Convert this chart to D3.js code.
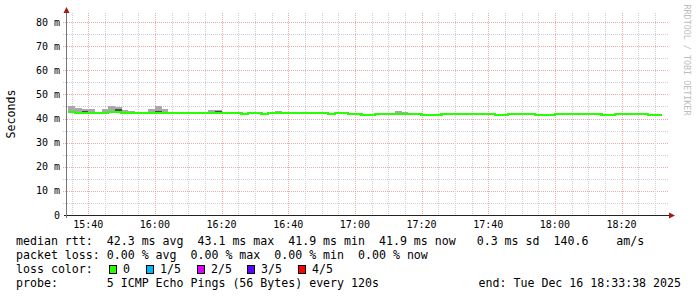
<!DOCTYPE html>
<html>
<head>
<meta charset="utf-8">
<script src="https://cdn.jsdelivr.net/npm/d3@7"></script>
<style>
  body { margin: 0; background: #fff; }
  text { font-family: "DejaVu Sans Mono", monospace; white-space: pre; }
</style>
</head>
<body>
<div id="smokeChart"></div>
<script>
// median rtt per 120s slot (ms), first slot starts 15:34:00
var medianMs = [
  42.7, 42.35, 42.35, 42.35, 42.35, 42.35, 42.7, 42.8,
  42.3, 42.3, 42.3, 42.3, 42.3, 42.3, 42.3, 42.3, 42.3, 42.3,
  42.3, 42.3, 42.3, 42.3, 42.3, 42.3, 42.3, 42.3,
  41.8, 42.3, 42.3, 41.8, 42.3, 42.3, 42.3, 42.3, 42.3, 42.3,
  42.3, 42.3, 42.3, 41.8, 42.3, 42.3, 41.8, 41.95, 41.5, 41.5,
  41.95, 41.95, 41.95, 41.95, 41.95, 41.95, 41.95, 41.5, 41.5, 41.5,
  41.95, 41.95, 41.95, 41.95, 41.95, 41.95, 41.95, 41.95, 41.5, 41.5,
  41.95, 41.95, 41.95, 41.95, 41.5, 41.5, 41.5, 41.95, 41.95, 41.95,
  41.95, 41.95, 41.95, 41.95, 41.5, 41.5, 41.95, 41.95, 41.95, 41.95,
  41.95, 41.5, 41.5
];

// slots where the smoke shows above the median line
var smokeIdx = [0, 1, 2, 3, 5, 6, 7, 8, 9, 12, 13, 14, 21, 22, 31, 49, 50];
var smokeMax = [45.3, 44.5, 43.9, 43.9, 43.9, 45.3, 44.7, 43.4, 43.0, 43.9, 45.3, 43.9, 43.4, 43.4, 43.1, 43.1, 42.8];
var smokeMin = [42.2, 42.0, 42.0, 42.1, 42.0, 42.3, 42.4, 42.0, 42.1, 42.0, 42.1, 42.0, 42.0, 42.1, 42.0, 41.7, 41.7];
var smokeP4 = [42.9, 42.6, 43.2, 42.6, 42.6, 43.0, 44.0, 42.6, 42.5, 42.7, 43.0, 42.6, 42.9, 43.2, 42.4, 42.2, 42.1];

var yTicks = [0, 10, 20, 30, 40, 50, 60, 70, 80];
var yTickLabels = ["0", "10 m", "20 m", "30 m", "40 m", "50 m", "60 m", "70 m", "80 m"];
var xTickLabels = ["15:40", "16:00", "16:20", "16:40", "17:00", "17:20", "17:40", "18:00", "18:20"];

var lossLabels = ["0", "1/5", "2/5", "3/5", "4/5"];
var lossColors = ["#26ff00", "#00b8ff", "#dd00ff", "#5e00ff", "#ff0000"];

var legendRows = [
  "median rtt:  42.3 ms avg  43.1 ms max  41.9 ms min  41.9 ms now   0.3 ms sd  140.6    am/s",
  "packet loss: 0.00 % avg  0.00 % max  0.00 % min  0.00 % now",
  "loss color:",
  "probe:       5 ICMP Echo Pings (56 Bytes) every 120s"
];
var endLabel = "end: Tue Dec 16 18:33:38 2025";

function smokeChart() {
  var width = 697, height = 297;
  var left = 67, right = 667, top = 13, bottom = 215;

  var tStart = new Date(2025, 11, 16, 15, 33, 38);
  var tEnd = new Date(2025, 11, 16, 18, 33, 38);
  var slot0 = new Date(2025, 11, 16, 15, 34, 0);
  var stepMs = 120 * 1000;

  function slotTime(i) { return new Date(slot0.getTime() + i * stepMs); }

  var x = d3.scaleTime().domain([tStart, tEnd]).range([left, right]);
  var y = d3.scaleLinear().domain([0, 80]).range([bottom, 22]);

  var svg = d3.select("#smokeChart")
    .append("svg")
    .attr("width", width)
    .attr("height", height);

  // grid: minor every 5 m / 5 min, major every 10 m / 20 min
  var g = svg.append("g").attr("class", "grid");
  var ms = [];
  for (var v = 5; v <= 80; v += 5) ms.push(v);
  ms.forEach(function(v) {
    g.append("line")
      .attr("x1", 63).attr("x2", 669)
      .attr("y1", Math.round(y(v)) + 0.5).attr("y2", Math.round(y(v)) + 0.5)
      .attr("stroke", v % 10 === 0 ? "#eba9a9" : "#cfcfcf")
      .attr("stroke-dasharray", "1,1");
  });
  var minorT = d3.timeMinute.every(5).range(tStart, tEnd);
  minorT.forEach(function(t) {
    var major = t.getMinutes() % 20 === 0;
    g.append("line")
      .attr("x1", Math.round(x(t)) + 0.5).attr("x2", Math.round(x(t)) + 0.5)
      .attr("y1", top).attr("y2", bottom)
      .attr("stroke", major ? "#eba9a9" : "#cfcfcf")
      .attr("stroke-dasharray", "1,1");
  });

  // smoke: outer layer then inner layer
  var smoke = svg.append("g").attr("shape-rendering", "crispEdges");
  smokeIdx.forEach(function(i, k) {
    var x0 = x(slotTime(i)), x1 = x(slotTime(i + 1));
    smoke.append("rect")
      .attr("x", x0).attr("width", x1 - x0)
      .attr("y", y(smokeMax[k])).attr("height", y(smokeMin[k]) - y(smokeMax[k]))
      .attr("fill", "#a9a9a9");
    smoke.append("rect")
      .attr("x", x0).attr("width", x1 - x0)
      .attr("y", y(smokeP4[k])).attr("height", Math.max(0, y(smokeMin[k]) - y(smokeP4[k])))
      .attr("fill", "#4a4a4a");
  });

  // median line, step per slot
  var pts = medianMs.map(function(v, i) { return [slotTime(i), v]; });
  pts.push([slotTime(medianMs.length), medianMs[medianMs.length - 1]]);
  var line = d3.line()
    .x(function(d) { return x(d[0]); })
    .y(function(d) { return y(d[1]); })
    .curve(d3.curveStepAfter);
  svg.append("path")
    .datum(pts)
    .attr("d", line)
    .attr("fill", "none")
    .attr("stroke", lossColors[0])
    .attr("stroke-width", 2.2)
    .attr("shape-rendering", "crispEdges");

  // axes
  svg.append("line")
    .attr("x1", 64).attr("x2", 669)
    .attr("y1", bottom + 0.5).attr("y2", bottom + 0.5)
    .attr("stroke", "#222");
  svg.append("line")
    .attr("x1", left - 0.5).attr("x2", left - 0.5)
    .attr("y1", bottom + 3).attr("y2", 12)
    .attr("stroke", "#777");
  svg.append("path").attr("d", "M63.5,13 L66.5,7 L69.5,13 Z").attr("fill", "#a11a1a");
  svg.append("path").attr("d", "M669,212.5 L675,215.5 L669,218.5 Z").attr("fill", "#a11a1a");

  // y tick labels
  svg.append("g").selectAll("text")
    .data(yTicks)
    .join("text")
    .attr("x", 60)
    .attr("y", function(d) { return y(d) + 3.5; })
    .attr("text-anchor", "end")
    .attr("font-size", "10px")
    .text(function(d, i) { return yTickLabels[i]; });

  // x tick labels
  var xTicks = d3.timeMinute.every(20).range(tStart, tEnd);
  svg.append("g").selectAll("text")
    .data(xTicks)
    .join("text")
    .attr("x", function(d) { return x(d); })
    .attr("y", 228)
    .attr("text-anchor", "middle")
    .attr("font-size", "10px")
    .text(function(d, i) { return xTickLabels[i]; });

  svg.append("text")
    .attr("transform", "translate(15,114) rotate(-90)")
    .attr("text-anchor", "middle")
    .attr("font-size", "11.6px")
    .text("Seconds");

  svg.append("text")
    .attr("transform", "translate(684,60) rotate(90)")
    .attr("text-anchor", "middle")
    .attr("font-size", "8.4px")
    .attr("fill", "#bdbdbd")
    .text("RRDTOOL / TOBI OETIKER");

  // legend
  var lg = svg.append("g").attr("font-size", "11.6px");
  legendRows.forEach(function(s, i) {
    lg.append("text").attr("x", 16).attr("y", 245 + i * 14).text(s);
  });
  lg.append("text")
    .attr("x", 681).attr("y", 287)
    .attr("text-anchor", "end")
    .text(endLabel);

  var boxX = [109, 146, 197, 247, 298];
  lossLabels.forEach(function(l, i) {
    lg.append("rect")
      .attr("x", boxX[i] + 0.5).attr("y", 265.5)
      .attr("width", 7).attr("height", 8)
      .attr("fill", lossColors[i])
      .attr("stroke", "#000");
    lg.append("text").attr("x", boxX[i] + 14).attr("y", 273).text(l);
  });
}

smokeChart();
</script>
</body>
</html>
